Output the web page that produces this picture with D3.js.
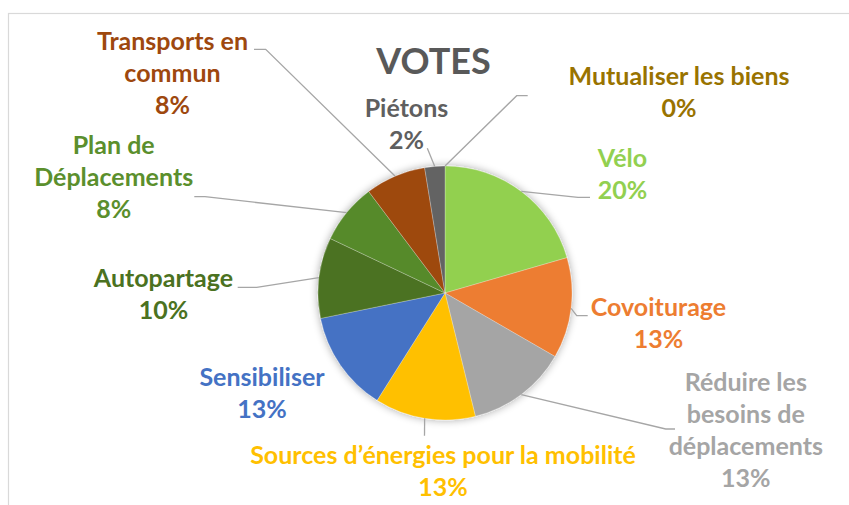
<!DOCTYPE html>
<html>
<head>
<meta charset="utf-8">
<script src="https://cdn.jsdelivr.net/npm/d3@7"></script>
<style>
  body { margin: 0; background: #fff; }
  svg { display: block; font-family: Lato, "Open Sans", sans-serif; }
</style>
</head>
<body>
<div id="chart"></div>
<script>
"use strict";

// categories clockwise from 12 o'clock
const categories = [
  "Mutualiser les biens", "Vélo", "Covoiturage", "Réduire les besoins de déplacements",
  "Sources d’énergies pour la mobilité", "Sensibiliser", "Autopartage",
  "Plan de Déplacements", "Transports en commun", "Piétons"
];
// votes
const votes = [0, 8, 5, 5, 5, 5, 4, 3, 3, 1];
// percentage labels as printed on the chart
const pctLabels = ["0%", "20%", "13%", "13%", "13%", "13%", "10%", "8%", "8%", "2%"];
// how the label text is broken over lines
const labelLines = [
  ["Mutualiser les biens"], ["Vélo"], ["Covoiturage"], ["Réduire les", "besoins de", "déplacements"],
  ["Sources d’énergies pour la mobilité"], ["Sensibiliser"], ["Autopartage"],
  ["Plan de", "Déplacements"], ["Transports en", "commun"], ["Piétons"]
];

const colors = ["#997300", "#92D050", "#ED7D31", "#A5A5A5", "#FFC000", "#4472C4",
  "#4B7221", "#568A2B", "#9E480E", "#636363"];
const textColors = ["#997300", "#92D050", "#ED7D31", "#A5A5A5", "#FFC000", "#4472C4",
  "#4B7221", "#5B8F2D", "#9E480E", "#5F5F5F"];

// manual label placement (center x, first baseline y) and leader elbow
const labelLayout = [
  { x: 679, y: 85, elbow: [516.7, 95.7], end: [527.7, 95.7] },
  { x: 622.5, y: 166.5, elbow: [578, 197.3], end: [590, 197.3] },
  { x: 658.5, y: 315.5, elbow: [576.7, 315.7], end: [587.7, 315.7] },
  { x: 745.8, y: 391, elbow: [665.7, 429], end: [675, 429] },
  { x: 443, y: 464, elbow: null, end: [424.5, 435.7] },
  { x: 262, y: 386, elbow: null, end: null },
  { x: 163.5, y: 286.7, elbow: [256.7, 287.3], end: [237.7, 287.3] },
  { x: 113.7, y: 154.3, elbow: [205, 196.7], end: [194.3, 196.7] },
  { x: 172.5, y: 50, elbow: [265.7, 49.3], end: [254, 49.3] },
  { x: 406.5, y: 116.7, elbow: null, end: [427.3, 148.3] }
];

const width = 849;
const height = 505;
const cx = 445;
const cy = 293;
const radius = 127;
const lineHeight = 32;

const svg = d3.select("#chart")
  .append("svg")
  .attr("width", width)
  .attr("height", height);

// chart area border
svg.append("rect")
  .attr("x", 8.5)
  .attr("y", 13.5)
  .attr("width", width + 20)
  .attr("height", height + 20)
  .attr("fill", "#fff")
  .attr("stroke", "#d9d9d9")
  .attr("stroke-width", 1.2);

const defs = svg.append("defs");
const shadow = defs.append("filter")
  .attr("id", "shadow")
  .attr("x", "-20%").attr("y", "-20%")
  .attr("width", "140%").attr("height", "140%");
shadow.append("feGaussianBlur").attr("in", "SourceAlpha").attr("stdDeviation", 4);
shadow.append("feOffset").attr("dx", 0).attr("dy", 0).attr("result", "blur");
shadow.append("feComponentTransfer").append("feFuncA").attr("type", "linear").attr("slope", 0.35);
const merge = shadow.append("feMerge");
merge.append("feMergeNode");
merge.append("feMergeNode").attr("in", "SourceGraphic");

svg.append("text")
  .attr("x", 433.5)
  .attr("y", 73.5)
  .attr("text-anchor", "middle")
  .attr("fill", "#595959")
  .attr("font-weight", 700)
  .attr("font-size", 36)
  .text("VOTES");

const pie = d3.pie()
  .sort(null)
  .value(d => d)
  .startAngle(0)
  .endAngle(2 * Math.PI);

const arcs = pie(votes);

const arc = d3.arc()
  .innerRadius(0)
  .outerRadius(radius);

const edgeArc = d3.arc()
  .innerRadius(radius)
  .outerRadius(radius);

const g = svg.append("g")
  .attr("transform", `translate(${cx},${cy})`);

const slices = g.append("g").attr("filter", "url(#shadow)");
slices.selectAll("path")
  .data(arcs)
  .enter()
  .append("path")
  .attr("d", arc)
  .attr("fill", (d, i) => colors[i])
  .attr("stroke", "#fff")
  .attr("stroke-width", 0.5)
  .attr("stroke-opacity", 0.5);

// leader lines from the middle of each slice edge
const leaders = svg.append("g")
  .attr("fill", "none")
  .attr("stroke", "#a6a6a6")
  .attr("stroke-width", 1.3);

arcs.forEach((d, i) => {
  const lay = labelLayout[i];
  if (!lay.end) return;
  const c = edgeArc.centroid(d);
  const pts = [[cx + c[0], cy + c[1]]];
  if (lay.elbow) pts.push(lay.elbow);
  pts.push(lay.end);
  leaders.append("path").attr("d", d3.line()(pts));
});

// labels
const labels = svg.append("g")
  .attr("font-weight", 700)
  .attr("font-size", 25)
  .attr("text-anchor", "middle");

categories.forEach((name, i) => {
  const lay = labelLayout[i];
  const t = labels.append("text")
    .attr("fill", textColors[i]);
  labelLines[i].concat([pctLabels[i]]).forEach((line, j) => {
    t.append("tspan")
      .attr("x", lay.x)
      .attr("y", lay.y + j * lineHeight)
      .text(line);
  });
});
</script>
</body>
</html>
